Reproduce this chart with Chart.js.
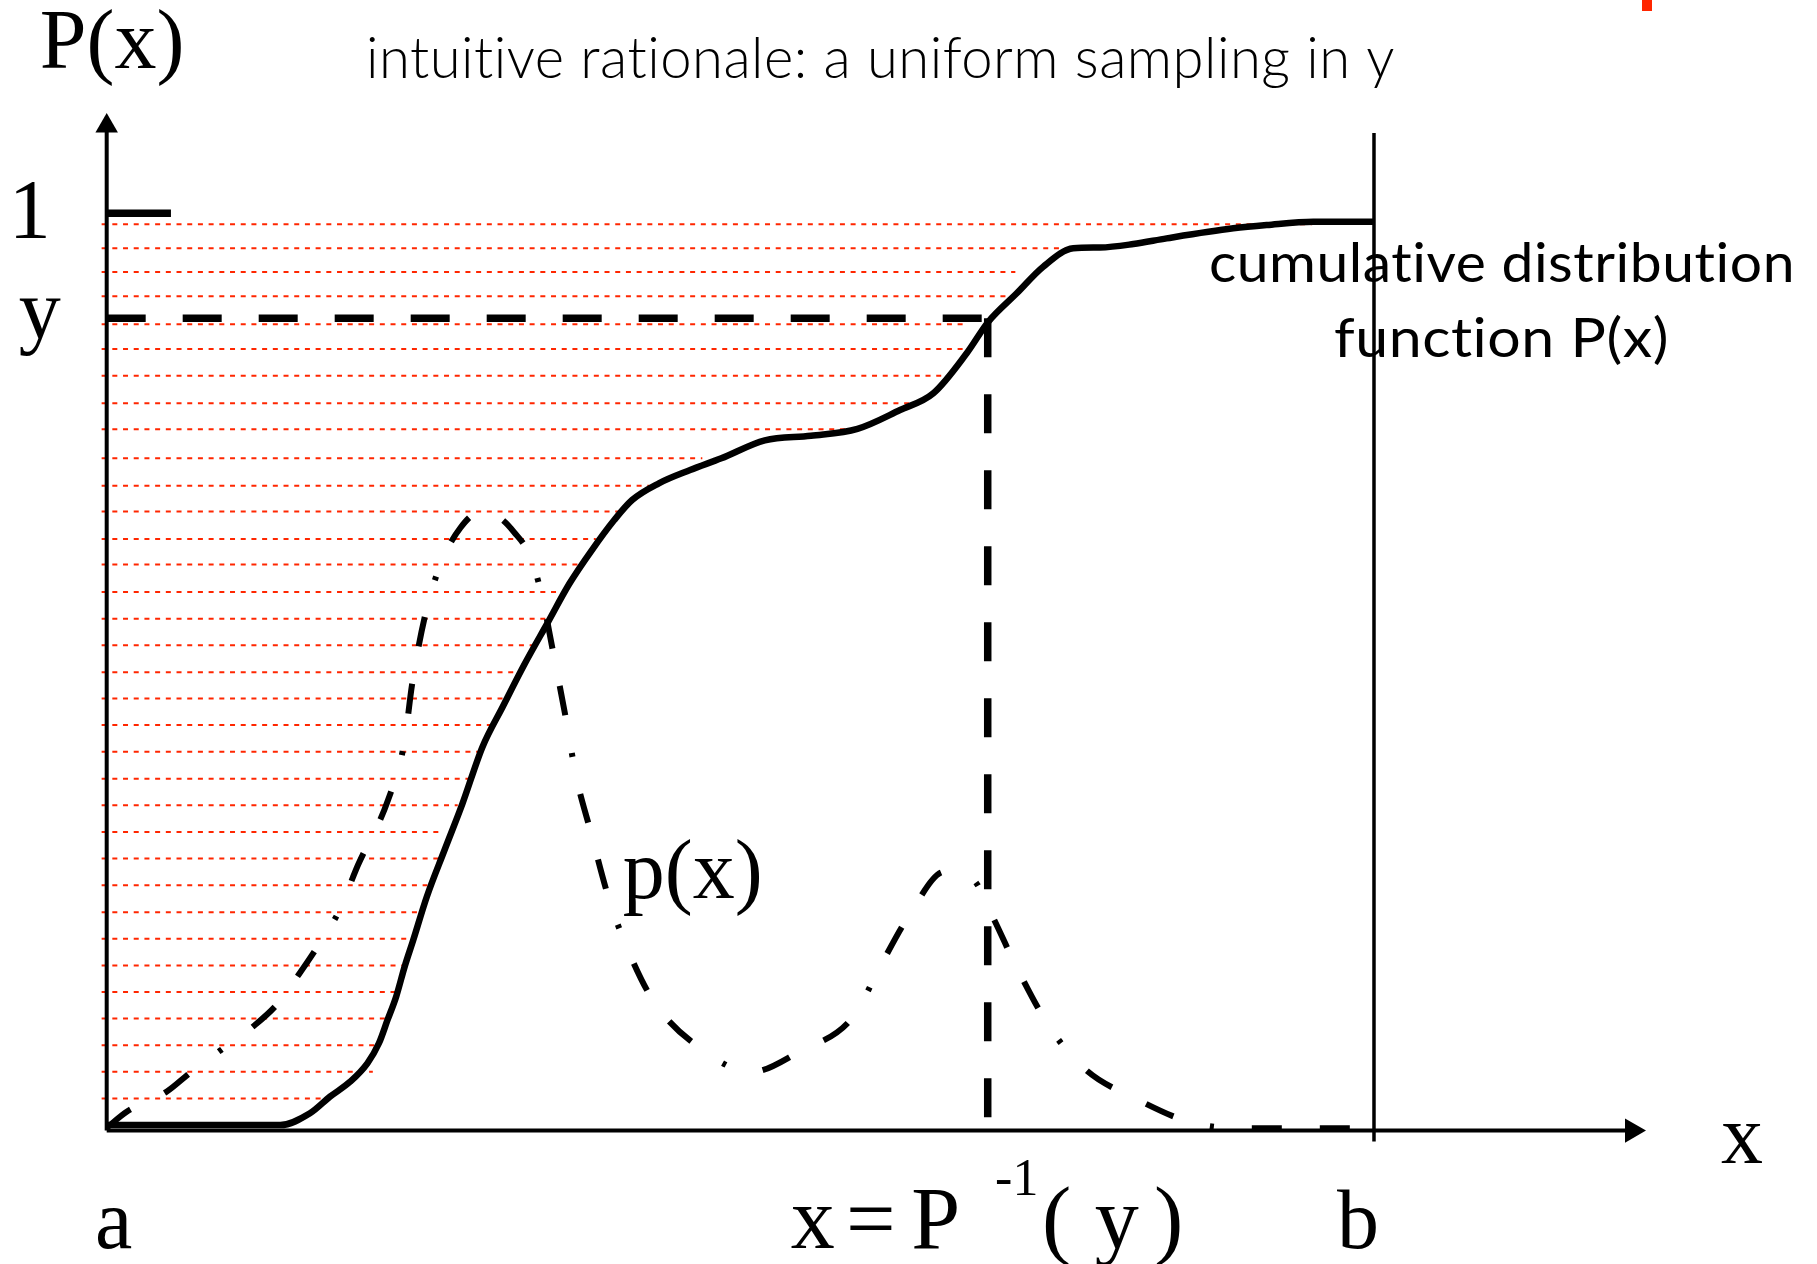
<!DOCTYPE HTML>
<html lang="en">
<head>
<meta charset="UTF-8">
<title>Inverse transform sampling</title>
<script src="https://cdn.jsdelivr.net/npm/chart.js@4.4.0/dist/chart.umd.min.js"></script>
<style>
  html, body { margin: 0; padding: 0; background: #fff; }
  canvas { display: block; }
</style>
</head>
<body>
<canvas id="mychart" width="1817" height="1264"></canvas>

<script>
// x runs from a (0) to b (1), y is probability (0 .. 1)
var cdfX = [0, 0.137, 0.1604, 0.1762, 0.1921, 0.2057, 0.2148, 0.2216, 0.2284, 0.2351, 0.2419, 0.2526,
            0.2666, 0.2808, 0.2966, 0.3125, 0.3301, 0.3477, 0.3653, 0.3829, 0.4005, 0.4146, 0.4357,
            0.4604, 0.4850, 0.5193, 0.5557, 0.5924, 0.6260, 0.6523, 0.6786, 0.6957, 0.7181, 0.7390,
            0.7627, 0.7838, 0.8101, 0.8364, 0.8890, 0.9153, 0.9521, 1.0];
var cdfY = [0.006, 0.006, 0.0188, 0.0369, 0.0532, 0.0733, 0.0951, 0.1205, 0.1459, 0.1786, 0.2077, 0.2549,
            0.3058, 0.3567, 0.4185, 0.4621, 0.5094, 0.5530, 0.5966, 0.6329, 0.6656, 0.6874, 0.7056,
            0.7201, 0.7329, 0.7525, 0.7575, 0.7650, 0.7855, 0.8038, 0.8474, 0.8818, 0.9128, 0.9418,
            0.9618, 0.9627, 0.9665, 0.9727, 0.9836, 0.9872, 0.9908, 0.9908];

var pdfX = [0, 0.0158, 0.0472, 0.0653, 0.0902, 0.1170, 0.1352, 0.1513, 0.1672, 0.1831, 0.1983, 0.2220,
            0.2350, 0.2409, 0.2508, 0.2632, 0.2790, 0.2946, 0.3103, 0.3214, 0.3336, 0.3435, 0.3521,
            0.3624, 0.3705, 0.3819, 0.3960, 0.4113, 0.4322, 0.4690, 0.5084, 0.5467, 0.5891, 0.6108,
            0.6331, 0.6612, 0.6841, 0.6986, 0.7183, 0.7447, 0.7727, 0.8114, 0.8603, 0.9053, 0.9511, 0.9953];
var pdfY = [0.003, 0.0205, 0.0423, 0.0624, 0.0878, 0.1150, 0.1387, 0.1695, 0.2022, 0.2386, 0.2894, 0.3603,
            0.4239, 0.4857, 0.5588, 0.6165, 0.6569, 0.6743, 0.6678, 0.6525, 0.6275, 0.5828, 0.5228,
            0.4487, 0.3857, 0.3258, 0.2540, 0.1968, 0.1396, 0.0892, 0.0638, 0.0861, 0.1241, 0.1801,
            0.2343, 0.2822, 0.2731, 0.2345, 0.1772, 0.1114, 0.0660, 0.0351, 0.0071, 0.0024, 0.0024, 0.0024];

// uniform samples in y (red dotted lines) and where each one stops
var sampleLevels = [0.988, 0.962, 0.936, 0.9095, 0.879, 0.852, 0.823, 0.793, 0.7645, 0.733, 0.703, 0.675,
                    0.645, 0.617, 0.587, 0.558, 0.529, 0.4995, 0.471, 0.442, 0.413, 0.3835, 0.3545, 0.3255,
                    0.2965, 0.2675, 0.238, 0.209, 0.180, 0.151, 0.122, 0.093, 0.064, 0.035];
var sampleEnds   = [0.951, 0.772, 0.717, 0.717, 0.679, 0.680, 0.664, 0.640, 0.595, 0.470, 0.428, 0.404,
                    0.386, 0.372, 0.356, 0.348, 0.337, 0.325, 0.317, 0.304, 0.295, 0.286, 0.277, 0.264,
                    0.262, 0.253, 0.251, 0.243, 0.236, 0.230, 0.222, 0.214, 0.210, 0.177];

// the picked sample y and its inverse x = P^-1(y)
var yPick = 0.8855;
var xPick = 0.6952;

// axis geometry
var yAxisTop = 1.0952;
var xAxisEnd = 1.2036;
var tickOneEnd = 0.0507;
var bLineBottom = -0.012;
var bLineTop = 1.0875;

var titleText = 'intuitive rationale: a uniform sampling in y';
var cdfLabel = ['cumulative distribution', 'function P(x)'];

var red = 'rgb(255, 38, 0)';

function pts(xs, ys) {
    return xs.map(function(x, i) { return {x: x, y: ys[i]}; });
}

function line(data, opts) {
    var ds = {
        data: data,
        showLine: true,
        borderColor: '#000',
        backgroundColor: '#000',
        borderWidth: 4,
        pointRadius: 0,
        fill: false,
        tension: 0,
        order: 1
    };
    for (var k in opts) ds[k] = opts[k];
    return ds;
}

var datasets = [];
// cumulative distribution (on top)
datasets.push(line(pts(cdfX, cdfY), {borderWidth: 6.5, cubicInterpolationMode: 'monotone', order: 0}));
// p(x), dash-dash-dot
datasets.push(line(pts(pdfX, pdfY), {borderWidth: 6, cubicInterpolationMode: 'monotone',
    borderDash: [30, 38, 30, 38, 4, 38]}));
// y and x = P^-1(y) dashed guides
datasets.push(line([{x: 0, y: yPick}, {x: xPick, y: yPick}], {borderWidth: 7.5, borderDash: [39, 37]}));
datasets.push(line([{x: xPick, y: yPick}, {x: xPick, y: 0}], {borderWidth: 7.5, borderDash: [39, 37]}));
// axes with arrow heads
datasets.push(line([{x: 0, y: 0}, {x: 0, y: yAxisTop}], {
    pointRadius: [0, 13], pointStyle: 'triangle', pointBorderWidth: 0, pointRotation: 0,
    pointBackgroundColor: '#000'}));
datasets.push(line([{x: 0, y: 0}, {x: xAxisEnd, y: 0}], {
    pointRadius: [0, 14], pointStyle: 'triangle', pointBorderWidth: 0, pointRotation: 90,
    pointBackgroundColor: '#000'}));
// tick at P = 1 and the line at b
datasets.push(line([{x: 0, y: 1}, {x: tickOneEnd, y: 1}], {borderWidth: 7.5}));
datasets.push(line([{x: 1, y: bLineBottom}, {x: 1, y: bLineTop}], {borderWidth: 3.5}));
// red dotted sample lines (underneath everything)
sampleLevels.forEach(function(lv, i) {
    datasets.push(line([{x: -0.004, y: lv}, {x: sampleEnds[i], y: lv}], {
        borderColor: red, borderWidth: 2, borderDash: [5, 5.7], order: 5}));
});

function fitText(ctx, s, x, y, w) {
    var m = ctx.measureText(s).width;
    ctx.save();
    ctx.translate(x, y);
    ctx.scale(w / m, 1);
    ctx.fillText(s, 0, 0);
    ctx.restore();
}

var labelPlugin = {
    id: 'labels',
    afterDatasetsDraw: function(chart) {
        var ctx = chart.ctx;
        var X = function(v) { return chart.scales.x.getPixelForValue(v); };
        var Y = function(v) { return chart.scales.y.getPixelForValue(v); };
        var serif = function(px) { return px + 'px "Liberation Serif", "DejaVu Serif", serif'; };

        ctx.save();
        ctx.fillStyle = '#000';
        ctx.textBaseline = 'alphabetic';

        // math labels
        ctx.font = serif(84);
        ctx.textAlign = 'left';
        ctx.fillText('P(x)', X(0) - 67, Y(1) - 145);
        ctx.fillText('p(x)', X(0) + 516, Y(0) - 233);
        ctx.fillText('x', X(1) + 347, Y(0) + 32);
        ctx.textAlign = 'center';
        ctx.fillText('1', X(0) - 77, Y(1) + 25);
        ctx.fillText('y', X(0) - 67, Y(yPick) + 20);
        ctx.fillText('a', X(0) + 7, Y(0) + 117);
        ctx.fillText('b', X(1) - 16, Y(0) + 117);

        // x = P^-1(y)
        var cx = X(xPick), by = Y(0) + 117;
        ctx.font = serif(88);
        ctx.fillText('x', cx - 175, by);
        ctx.fillText('=', cx - 117, by);
        ctx.fillText('P', cx - 52, by);
        ctx.fillText('(', cx + 69, by);
        ctx.fillText('y', cx + 129, by);
        ctx.fillText(')', cx + 181, by);
        ctx.font = serif(52);
        ctx.fillText('-1', cx + 29, by - 53);

        // slide title and curve label (no ligatures, like the original face)
        ctx.textAlign = 'left';
        ctx.letterSpacing = '0.5px';
        ctx.font = '300 58px Lato, "Open Sans", sans-serif';
        fitText(ctx, titleText, 366, 77.5, 1029);
        ctx.font = '400 54px Lato, "Open Sans", sans-serif';
        fitText(ctx, cdfLabel[0], 1209, 282, 586);
        fitText(ctx, cdfLabel[1], 1334, 357, 335);
        ctx.letterSpacing = '0px';

        // red corner mark of the slide
        ctx.fillStyle = red;
        ctx.fillRect(1642, 0, 10, 11);
        ctx.restore();
    }
};

window.addEventListener('load', function() {
    var ctx = document.getElementById('mychart');
    new Chart(ctx, {
        type: 'scatter',
        data: { datasets: datasets },
        options: {
            responsive: false,
            animation: false,
            layout: { padding: 0, autoPadding: false },
            plugins: {
                legend: { display: false },
                tooltip: { enabled: false },
                title: { display: false }
            },
            scales: {
                x: { type: 'linear', min: -0.08419, max: 1.34957, display: false },
                y: { type: 'linear', min: -0.14554, max: 1.23256, display: false }
            }
        },
        plugins: [labelPlugin]
    });
});
</script>
</body>
</html>
